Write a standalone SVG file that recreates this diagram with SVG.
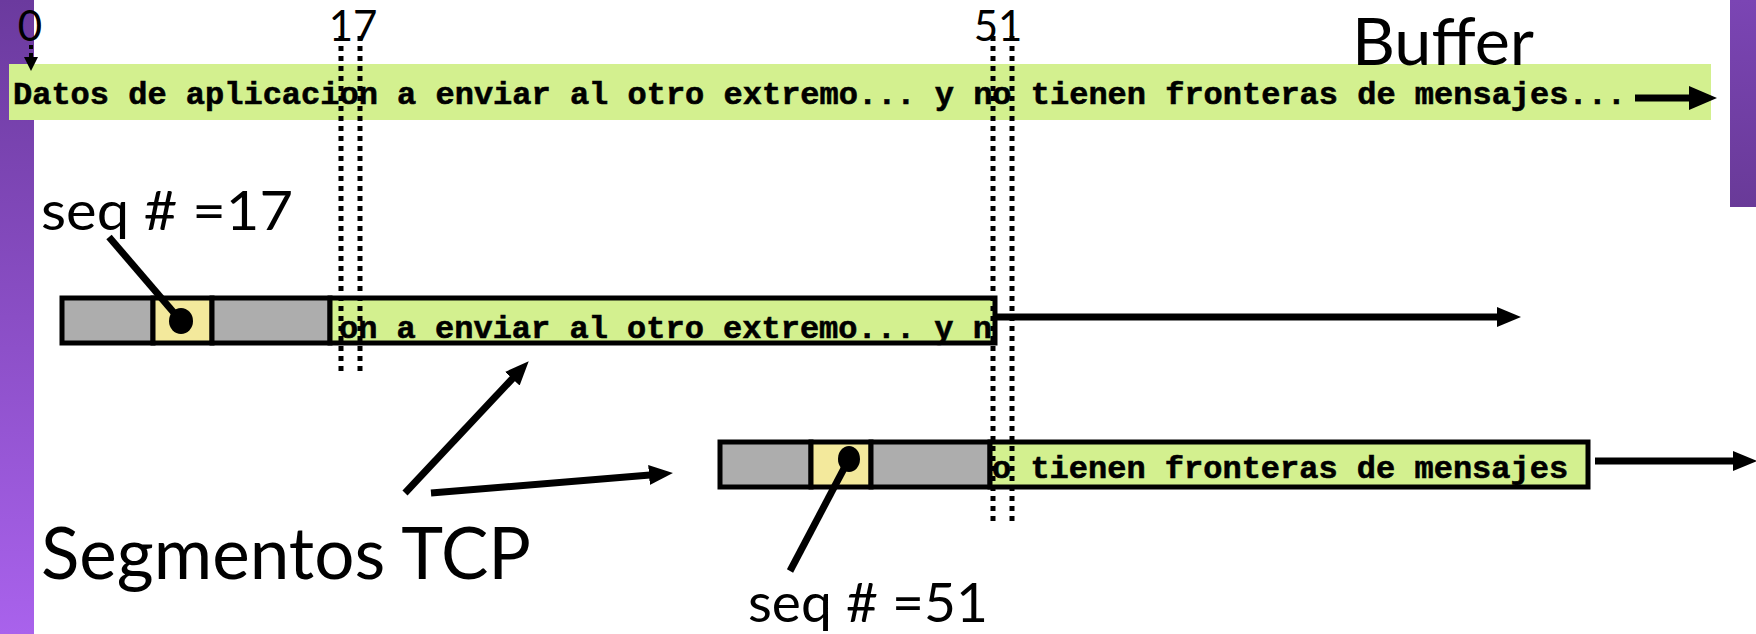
<svg xmlns="http://www.w3.org/2000/svg" width="1756" height="634" viewBox="0 0 1756 634">
<style>
.mono{font-family:"Liberation Mono","Courier New",monospace;font-weight:bold;font-size:32px;fill:#000;stroke:#000;stroke-width:0.6}
.sans{font-family:Lato,"Open Sans",sans-serif;fill:#000}
.cell{stroke:#000;stroke-width:5}
.gray{fill:#adadad}
.yel{fill:#f3e99c}
.grn{fill:#d3f08f}
.dot{stroke:#000;stroke-width:5;stroke-dasharray:5 5;fill:none}
.conn{stroke:#000;stroke-width:7;fill:none}
</style>
<defs>
<linearGradient id="pl" x1="0" y1="0" x2="0" y2="1"><stop offset="0" stop-color="#6b3a9e"/><stop offset="1" stop-color="#a962ec"/></linearGradient>
<linearGradient id="pr" x1="0" y1="0" x2="0" y2="1"><stop offset="0" stop-color="#7b45b4"/><stop offset="1" stop-color="#693a98"/></linearGradient>
<marker id="head" markerUnits="userSpaceOnUse" markerWidth="28" markerHeight="26" refX="1" refY="13" orient="auto"><path d="M0,1 L28,13 L0,25 z" fill="#000"/></marker>
<marker id="headS" markerUnits="userSpaceOnUse" markerWidth="24" markerHeight="22" refX="1" refY="11" orient="auto"><path d="M0,1 L24,11 L0,21 z" fill="#000"/></marker>
</defs>
<rect x="0" y="0" width="1756" height="634" fill="#fff"/>
<rect x="0" y="0" width="34" height="634" fill="url(#pl)"/>
<rect x="1730" y="0" width="26" height="207" fill="url(#pr)"/>

<g id="buffer">
<rect x="9" y="64" width="1702" height="56" class="grn"/>
<text class="mono" x="13" y="104">Datos de aplicacion a enviar al otro extremo... y no tienen fronteras de mensajes...</text>
<text class="sans" x="1352" y="65" font-size="66" textLength="182" lengthAdjust="spacingAndGlyphs">Buffer</text>
</g>

<g id="labels">
<text class="sans" x="30" y="41" font-size="42" text-anchor="middle">0</text>
<text class="sans" x="353" y="41" font-size="42" text-anchor="middle">17</text>
<text class="sans" x="998" y="41" font-size="42" text-anchor="middle">51</text>
</g>

<g id="segment1">
<rect x="62" y="298" width="91" height="45" class="gray cell"/>
<rect x="153" y="298" width="59" height="45" class="yel cell"/>
<rect x="212" y="298" width="118" height="45" class="gray cell"/>
<rect x="330" y="298" width="665" height="45" class="grn cell"/>
<text class="mono" x="339" y="338">on a enviar al otro extremo... y n</text>
<ellipse cx="181" cy="321" rx="12" ry="13" fill="#000"/>
<text class="sans" x="41" y="230" font-size="55" textLength="252" lengthAdjust="spacingAndGlyphs">seq # =17</text>
</g>

<g id="segment2">
<rect x="720" y="442" width="91" height="45" class="gray cell"/>
<rect x="811" y="442" width="60" height="45" class="yel cell"/>
<rect x="871" y="442" width="119" height="45" class="gray cell"/>
<rect x="990" y="442" width="598" height="45" class="grn cell"/>
<text class="mono" x="992" y="478">o tienen fronteras de mensajes</text>
<ellipse cx="849" cy="459" rx="11" ry="13" fill="#000"/>
<text class="sans" x="748" y="622" font-size="55" textLength="240" lengthAdjust="spacingAndGlyphs">seq # =51</text>
</g>

<g id="segmentos">
<text class="sans" x="41" y="579" font-size="72" textLength="490" lengthAdjust="spacingAndGlyphs">Segmentos TCP</text>
</g>

<g id="connectors">
<line class="dot" x1="341" y1="36" x2="341" y2="376"/>
<line class="dot" x1="360" y1="36" x2="360" y2="376"/>
<line class="dot" x1="993" y1="36" x2="993" y2="522"/>
<line class="dot" x1="1012" y1="36" x2="1012" y2="522"/>
<line x1="31" y1="45" x2="31" y2="57" stroke="#000" stroke-width="4" stroke-dasharray="4 4"/>
<path d="M24,57 L38,57 L31,71 z" fill="#000"/>
<line class="conn" x1="1635" y1="98" x2="1690" y2="98" marker-end="url(#head)"/>
<line class="conn" x1="997" y1="317" x2="1498" y2="317" marker-end="url(#headS)"/>
<line class="conn" x1="1595" y1="461" x2="1734" y2="461" marker-end="url(#headS)"/>
<line class="conn" x1="109" y1="237" x2="181" y2="321"/>
<line class="conn" x1="849" y1="459" x2="790" y2="571"/>
<line class="conn" x1="405" y1="493" x2="513" y2="378" marker-end="url(#headS)"/>
<line class="conn" x1="431" y1="493" x2="650" y2="475" marker-end="url(#headS)"/>
</g>
</svg>
